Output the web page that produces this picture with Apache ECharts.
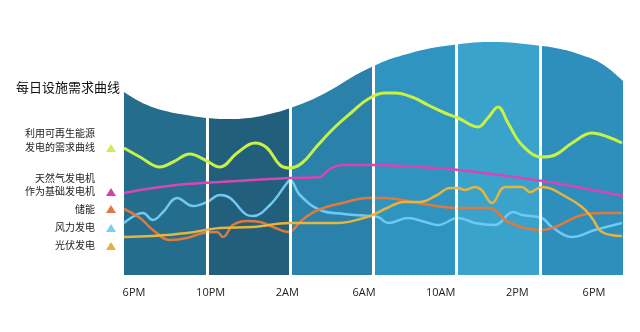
<!DOCTYPE html>
<html>
<head>
<meta charset="utf-8">
<script src="https://cdn.jsdelivr.net/npm/echarts@6/dist/echarts.min.js"></script>
<style>
html,body{margin:0;padding:0;background:#fff;}
#chart{width:640px;height:332px;}
</style>
</head>
<body>
<div id="chart"></div>
<script>
// Tick labels (every 4 hours over 24h)
const tickLabels = ['6PM', '10PM', '2AM', '6AM', '10AM', '2PM', '6PM'];

// Background daily demand shape: [hour, value]
const facilityShape = [[0,183],[1,171],[2,164],[3,160],[4,157],[5,156],[6,157],[7,161],[8,167],[9.5,180],[11.8,207],[13.8,222],[15.8,230],[17.8,233],[19.7,230],[21.0,226],[22.0,220],[23.0,211],[24,194]];
const bandColors = ['#246d8c', '#215f7c', '#2a82aa', '#3094c0', '#3aa3cb', '#2e8fbc'];
const bandEdges = [4, 8, 12, 16, 20];

// Series: [hour, value]
const renewableDemand = [[0,127],[0.77,118],[1.73,108],[2.36,113],[3.17,121],[3.9,115],[4.62,108],[5.44,122],[6.3,132],[6.88,127],[7.5,110],[7.98,107],[8.56,112],[9.33,130],[10.15,148],[10.97,163],[11.74,176],[12.55,182],[13.03,182],[13.85,178],[14.62,170],[15.44,162],[16.07,157],[17.03,148],[17.5,157],[17.99,168],[18.47,152],[19.14,130],[20.1,118],[20.73,120],[21.55,132],[22.51,142],[23.28,138],[23.95,132]];
const gasBase = [[0,82],[1.4,87],[3.0,91],[4.6,93],[6.2,95],[8.0,97],[9.4,98],[9.9,106],[10.5,110],[12,110],[14.2,108],[16.1,105],[20.1,94],[24,79]];
const storage = [[0,66],[0.77,57],[1.39,45],[2.21,35],[3.03,37],[3.8,42],[4.47,43],[4.76,38],[5.24,50],[5.92,54],[6.54,53],[7.17,48],[7.9,43],[8.56,55],[9.33,65],[10.5,72],[11.74,77],[12.55,77],[14.14,72],[16.07,67],[17.5,67],[17.84,65],[18.47,53],[20.1,45],[20.73,48],[22.03,60],[23.0,62],[23.95,62]];
const wind = [[0,52],[0.91,62],[1.39,55],[1.88,63],[2.55,77],[3.32,69],[3.99,73],[4.62,80],[5.1,77],[5.92,60],[6.2,59],[7.02,70],[7.84,92],[7.98,95],[8.46,80],[9.43,65],[10.58,61],[11.74,59],[12.22,58],[12.7,52],[13.66,57],[14.48,53],[15.1,50],[16.07,57],[16.88,52],[17.84,50],[18.71,63],[19.14,60],[20.1,57],[20.58,48],[21.55,38],[22.65,45],[23.95,52]];
const solar = [[0,38],[1.39,39],[3.03,42],[4.62,47],[6.2,48],[7.98,52],[10.24,52],[11.83,59],[12.65,67],[13.47,73],[14.24,73],[15.06,80],[15.68,87],[16.07,87],[16.4,85],[16.88,88],[17.2,85],[17.7,72],[18.33,88],[19.14,88],[19.53,83],[20.1,88],[21.36,77],[22.03,68],[22.51,57],[22.99,43],[23.95,39]];

const legendItems = [
  {lines: ['利用可再生能源', '发电的需求曲线'], color: '#c9ef55'},
  {lines: ['天然气发电机', '作为基础发电机'], color: '#d541aa'},
  {lines: ['储能'], color: '#e07a42'},
  {lines: ['风力发电'], color: '#7fcdee'},
  {lines: ['光伏发电'], color: '#e6b040'}
];
const legendY = [[133, 147], [178, 191], [209], [227], [245]];
const triY = [148, 192, 209, 228, 246];

const chart = echarts.init(document.getElementById('chart'));
const font = '"Noto Sans CJK SC", "Noto Sans", sans-serif';

const graphics = [{
  type: 'text', left: 16, top: 81,
  style: {text: '每日设施需求曲线', font: '13px ' + font, fill: '#111'}
}];
legendItems.forEach((it, i) => {
  it.lines.forEach((t, j) => {
    graphics.push({type: 'text', x: 95, y: legendY[i][j],
      style: {text: t, font: '10px ' + font, fill: '#222', align: 'right', verticalAlign: 'middle'}});
  });
  const cx = 111, cy = triY[i];
  graphics.push({type: 'polygon', shape: {points: [[cx - 5, cy + 4], [cx + 5, cy + 4], [cx, cy - 4]]},
    style: {fill: it.color}});
});

const lineSeries = (name, data, color, width, z) => ({
  name, type: 'line', data, smooth: 0.4, symbol: 'none', z,
  xAxisIndex: 0, yAxisIndex: 0,
  lineStyle: {color, width}, silent: true
});

chart.setOption({
  animation: false,
  backgroundColor: '#fff',
  grid: [
    {left: 124, right: 17, top: 40, bottom: 57},
    {left: 134, right: 46, top: 40, bottom: 57}
  ],
  xAxis: [
    {type: 'value', gridIndex: 0, min: 0, max: 24, interval: 4, show: false},
    {type: 'category', gridIndex: 1, data: tickLabels, boundaryGap: false,
     axisLine: {show: false}, axisTick: {show: false}, splitLine: {show: false},
     axisLabel: {color: '#222', fontSize: 11, margin: 12, fontFamily: 'Open Sans'}}
  ],
  yAxis: [
    {type: 'value', gridIndex: 0, min: 0, max: 235, show: false},
    {type: 'value', gridIndex: 1, min: 0, max: 235, show: false}
  ],
  visualMap: {
    type: 'piecewise', show: false, dimension: 0, seriesIndex: 0,
    pieces: bandColors.map((c, i) => ({gte: i * 4, lt: i * 4 + 4, color: c}))
      .concat([{gte: 24, lte: 24, color: bandColors[5]}])
  },
  graphic: graphics,
  series: [
    {
      type: 'line', data: facilityShape, smooth: 0.45, symbol: 'none', z: 1,
      lineStyle: {width: 0}, areaStyle: {opacity: 1}, silent: true,
      markLine: {
        silent: true, symbol: 'none', label: {show: false},
        lineStyle: {color: '#ffffff', width: 3, type: 'solid'},
        data: bandEdges.map(e => ({xAxis: e}))
      }
    },
    lineSeries('风力发电', wind, '#6fc9f0', 2.5, 3),
    lineSeries('储能', storage, '#de7a3e', 2.5, 4),
    lineSeries('光伏发电', solar, '#e8b43c', 2.5, 5),
    lineSeries('天然气发电机', gasBase, '#d646b4', 2.5, 6),
    lineSeries('利用可再生能源发电的需求曲线', renewableDemand, '#c8f244', 3, 7)
  ]
});
</script>
</body>
</html>
